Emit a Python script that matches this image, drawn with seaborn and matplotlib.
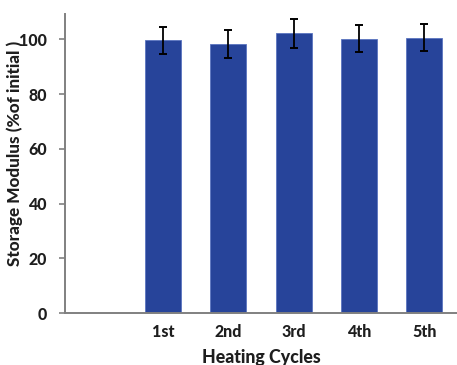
import matplotlib
matplotlib.use("Agg")
import matplotlib.pyplot as plt
import seaborn as sns
import pandas as pd

cycles = ["1st", "2nd", "3rd", "4th", "5th"]
modulus = [99.6, 98.4, 102.1, 100.2, 100.6]
errors = [5.0, 5.1, 5.2, 5.0, 5.0]
y_ticks = [0, 20, 40, 60, 80, 100]

sns.set_style("white")
plt.rcParams["font.family"] = ["Lato", "DejaVu Sans"]

df = pd.DataFrame({"cycle": cycles, "modulus": modulus})

fig = plt.figure(figsize=(4.57, 3.65), dpi=100)
ax = fig.add_axes([0.1422, 0.1416, 0.8578, 0.82])

bar_color = "#27449A"
sns.barplot(data=df, x="cycle", y="modulus", order=cycles, color=bar_color,
            saturation=1, width=0.55, errorbar=None, ax=ax,
            edgecolor="#5a74c0", linewidth=0.6)
ax.errorbar(x=list(range(len(cycles))), y=modulus, yerr=errors, fmt="none",
            ecolor="black", elinewidth=1.3, capsize=3.0, capthick=1.4)

ax.set_xlim(-1.5, 4.5)
ax.set_ylim(0, 109.2)
ax.set_yticks(y_ticks)
ax.set_yticklabels([str(t) for t in y_ticks], fontsize=11.5, fontweight="black",
                   color="#1e1e1e")
ax.set_xticks(range(len(cycles)))
ax.set_xticklabels(cycles, fontsize=11.5, fontweight="black", color="#1e1e1e")

ax.tick_params(axis="y", direction="out", length=4, width=1.2, color="#808080",
               pad=9, left=True)
ax.tick_params(axis="x", length=0, pad=8)

for s in ["top", "right"]:
    ax.spines[s].set_visible(False)
for s in ["left", "bottom"]:
    ax.spines[s].set_color("#808080")
    ax.spines[s].set_linewidth(1.4)

ax.set_xlabel("Heating Cycles", fontsize=12.8, fontweight="black",
              color="#1e1e1e", labelpad=6)
ax.set_ylabel("Storage Modulus (%of initial )", fontsize=12.3,
              fontweight="black", color="#1e1e1e")
ax.yaxis.set_label_coords(-0.108, 0.534)

fig.savefig("out.png", dpi=100)
